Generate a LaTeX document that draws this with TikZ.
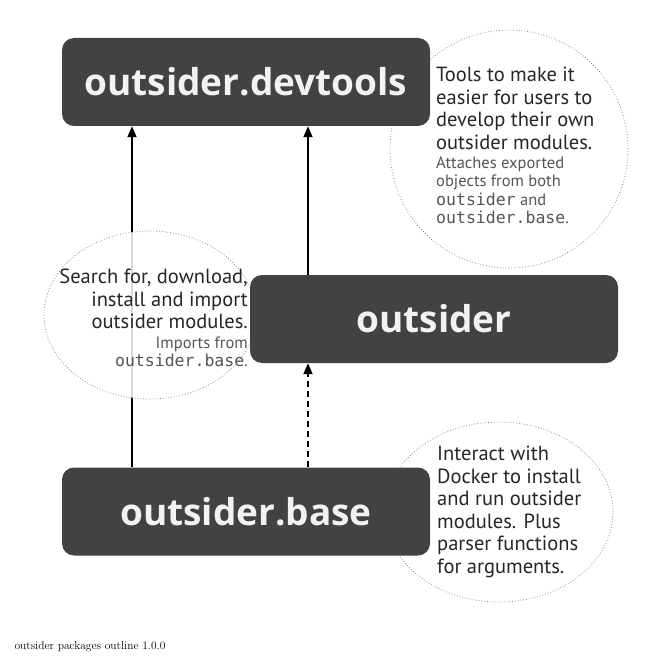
\documentclass[tikz,border=0pt]{standalone}
\usepackage{fontspec}
\newfontfamily\boxfont{Open Sans}
\newfontfamily\notefont{PT Sans}
\newfontfamily\codefont{DejaVu Sans Mono}
\usetikzlibrary{positioning,arrows.meta,shapes.geometric}

\definecolor{boxgrey}{RGB}{66,66,66}
\definecolor{boxtext}{RGB}{242,242,242}
\definecolor{subgrey}{RGB}{85,85,85}

\pgfdeclarelayer{back}
\pgfdeclarelayer{mid}
\pgfsetlayers{back,mid,main}

\tikzset{
  pkg/.style={fill=boxgrey, rounded corners=12pt, minimum width=368pt, minimum height=88pt,
    text=boxtext, font=\boxfont\bfseries\fontsize{37}{40}\selectfont},
  cloud/.style={ellipse, draw=gray!90, dotted, line width=0.8pt, fill=white, fill opacity=0.85, inner sep=0pt},
  note/.style={font=\notefont\fontsize{20.5}{22.5}\selectfont, text=black!85, inner sep=0pt},
  subnote/.style={font=\notefont\fontsize{16.5}{18.3}\selectfont, text=subgrey, inner sep=0pt},
  dep/.style={line width=1.8pt, -{Triangle[width=9pt,length=11pt]}},
}

\begin{document}
\begin{tikzpicture}[x=1pt,y=-1pt]
\useasboundingbox (0,0) rectangle (664,658);

\node[pkg] (devtools) at (246,82) {outsider.devtools};
\node[pkg] (outsider) at (434,319) {outsider};
\node[pkg] (base) at (246,511.5) {outsider.base};

\coordinate (colL) at (132,0);
\coordinate (colR) at (308,0);

\begin{pgfonlayer}{back}
\fill[white] (0,0) rectangle (664,658);
\draw[dep] (colL |- base.north) -- (colL |- devtools.south);
\draw[dep] (colR |- outsider.north) -- (colR |- devtools.south);
\draw[dep, dash pattern=on 6pt off 4pt] (colR |- base.north) -- (colR |- outsider.south);
\end{pgfonlayer}

\begin{pgfonlayer}{mid}
\node[cloud, minimum width=238pt, minimum height=238pt] (devcloud) at (509,149) {};
\node[cloud, minimum width=212pt, minimum height=168pt] (searchcloud) at (150,315) {};
\node[cloud, minimum width=228pt, minimum height=180pt] (dockercloud) at (499,512) {};
\end{pgfonlayer}

\node[note, align=left, anchor=north west] (devnote) at (436,67)
  {Tools to make it\\easier for users to\\develop their own\\outsider modules.};
\node[subnote, align=left, below=7pt of devnote.south west, anchor=north west] (devsub)
  {Attaches exported\\objects from both\\{\codefont outsider} and\\{\codefont outsider.base}.};

\node[note, align=right, anchor=north east] (searchnote) at (248,269)
  {Search for, download,\\install and import\\outsider modules.};
\node[subnote, align=right, below=7pt of searchnote.south east, anchor=north east] (searchsub)
  {Imports from\\{\codefont outsider.base}.};

\node[note, align=left, anchor=north west] (dockernote) at (437,446)
  {Interact with\\Docker to install\\and run outsider\\modules. Plus\\parser functions\\for arguments.};

\node[anchor=base west, font=\fontsize{11.5}{13}\selectfont] (caption) at (11,649)
  {outsider packages outline 1.0.0};
\end{tikzpicture}
\end{document}
